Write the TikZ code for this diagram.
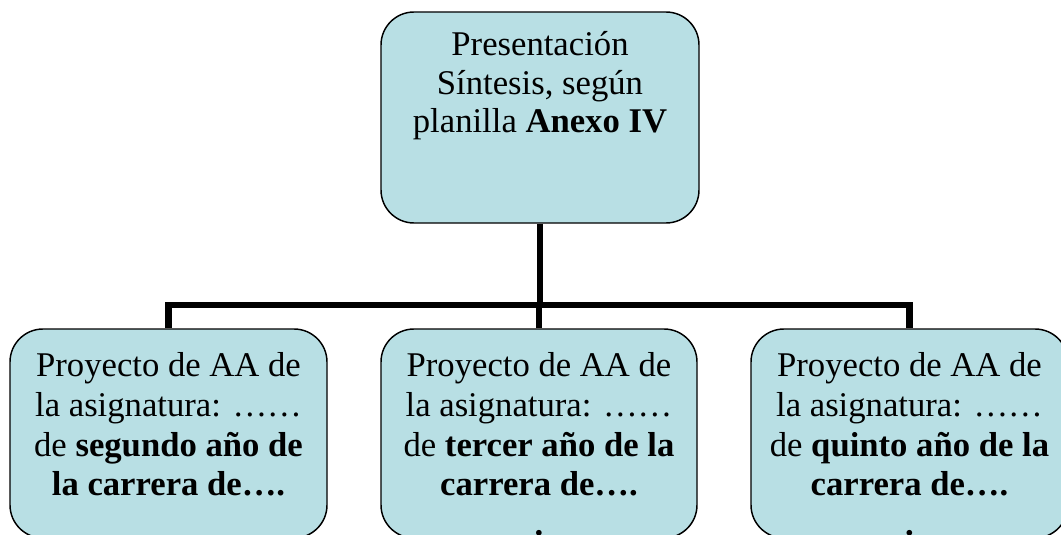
\documentclass[tikz,border=0pt]{standalone}
\usepackage{fontspec}
\setmainfont{Liberation Serif}
\definecolor{boxfill}{RGB}{184,223,228}
\begin{document}
\begin{tikzpicture}[x=0.75pt,y=-0.75pt,
  box/.style={draw=black, line width=1.1pt, fill=boxfill, rounded corners=24.75pt, inner sep=0pt},
  conn/.style={draw=black, line width=4.6pt, line join=miter},
  toptext/.style={anchor=north, align=center, inner sep=0pt, font=\fontsize{26}{28.9}\selectfont},
  bottext/.style={anchor=north, align=center, inner sep=0pt, font=\fontsize{26}{29.9}\selectfont}]
\useasboundingbox (0,0) rectangle (1061,535);
\clip (0,0) rectangle (1061,535);
\node[box, minimum width=238.5pt, minimum height=158.25pt] (top) at (540,117.5) {};
\node[box, minimum width=237.75pt, minimum height=156.75pt] (left) at (168.5,433.5) {};
\node[box, minimum width=237pt, minimum height=156.75pt] (mid) at (539,433.5) {};
\node[box, minimum width=237.75pt, minimum height=156.75pt] (right) at (909.5,433.5) {};
\coordinate (bar) at (540,305);
\draw[conn] (top.south) -- (bar);
\draw[conn] (left.north) |- (bar) -| (right.north);
\draw[conn] (mid.north) -- (mid.north |- bar);
\node[toptext] (toplabel) at (540,31.5) {Presentación\\Síntesis, según\\planilla \textbf{Anexo IV}};
\node[bottext] (leftlabel) at (168.5,352) {Proyecto de AA de\\la asignatura: ……\\de \textbf{segundo año de}\\\textbf{la carrera de….}};
\node[bottext] (midlabel) at (539,352) {Proyecto de AA de\\la asignatura: ……\\de \textbf{tercer año de la}\\\textbf{carrera de….}\\\textbf{.}};
\node[bottext] (rightlabel) at (909.5,352) {Proyecto de AA de\\la asignatura: ……\\de \textbf{quinto año de la}\\\textbf{carrera de….}\\\textbf{.}};
\end{tikzpicture}
\end{document}
